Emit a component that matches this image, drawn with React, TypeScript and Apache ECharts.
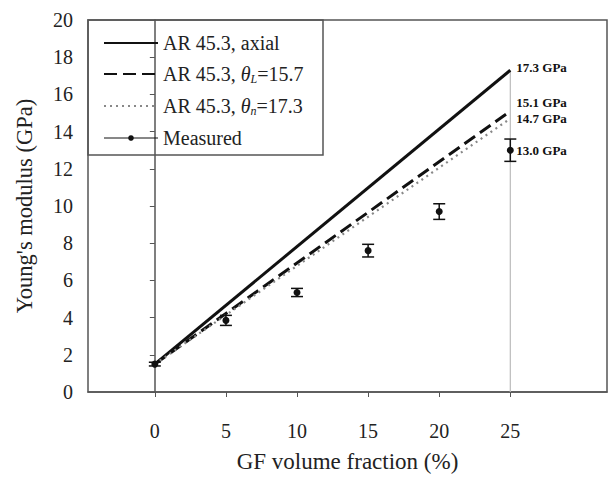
import React, { useEffect, useRef } from "react";
import * as echarts from "echarts";

const modelX = [0, 25];
const axialValues = [1.5, 17.3];
const thetaLValues = [1.5, 15.1];
const thetaNValues = [1.5, 14.7];
const measuredX = [0, 5, 10, 15, 20, 25];
const measuredValues = [1.5, 3.85, 5.35, 7.6, 9.7, 13.0];
const measuredErr = [0.1, 0.27, 0.22, 0.34, 0.42, 0.6];
const xTicks = [0, 5, 10, 15, 20, 25];
const guideLine = [[25, 0], [25, 17.3]];

const FONT = "Liberation Serif";

export default function App() {
  const ref = useRef<HTMLDivElement>(null);
  useEffect(() => {
    const chart = echarts.init(ref.current as HTMLDivElement, null, { renderer: "svg" });
    const pair = (xs: number[], ys: number[]) => xs.map((x, i) => [x, ys[i]]);
    const endLabel = (text: string, offset: number[]) => ({
      show: true,
      formatter: text,
      distance: 6,
      offset,
      fontFamily: FONT,
      fontWeight: "bold",
      fontSize: 13,
      color: "#111",
    });
    const legendNames: Record<string, string> = {
      axial: "{n|AR 45.3, axial}",
      thetaL: "{n|AR 45.3, }{i|θ}{s|L}{n|=15.7}",
      thetaN: "{n|AR 45.3, }{i|θ}{s|n}{n|=17.3}",
      Measured: "{n|Measured}",
    };
    chart.setOption({
      animation: false,
      backgroundColor: "#fff",
      textStyle: { fontFamily: FONT },
      grid: {
        left: 88,
        right: 4,
        top: 20,
        bottom: 85,
        show: true,
        borderColor: "#555",
        borderWidth: 1.5,
      },
      xAxis: {
        type: "value",
        min: -4.7,
        max: 31.8,
        name: "GF volume fraction (%)",
        nameLocation: "middle",
        nameGap: 58,
        nameTextStyle: { fontFamily: FONT, fontSize: 23, color: "#222" },
        axisLine: { show: true, lineStyle: { color: "#555", width: 1.5 } },
        axisTick: { show: true, customValues: xTicks, length: 5, lineStyle: { color: "#555" } },
        axisLabel: {
          customValues: xTicks,
          fontFamily: FONT,
          fontSize: 20,
          color: "#222",
          margin: 29,
        },
        splitLine: { show: false },
      },
      yAxis: {
        type: "value",
        min: 0,
        max: 20,
        interval: 2,
        name: "Young's modulus (GPa)",
        nameLocation: "middle",
        nameGap: 52,
        nameTextStyle: { fontFamily: FONT, fontSize: 22.5, color: "#222" },
        axisLine: { show: true, lineStyle: { color: "#555", width: 1.5 } },
        axisTick: { show: true, length: 5, lineStyle: { color: "#555" } },
        axisLabel: { fontFamily: FONT, fontSize: 20, color: "#222", margin: 15 },
        splitLine: { show: false },
      },
      legend: {
        orient: "vertical",
        left: 98,
        top: 28,
        itemWidth: 54,
        itemHeight: 7,
        itemGap: 11,
        selectedMode: false,
        data: [
          { name: "axial", itemStyle: { opacity: 0 } },
          { name: "thetaL", itemStyle: { opacity: 0 } },
          { name: "thetaN", itemStyle: { opacity: 0 } },
          { name: "Measured", lineStyle: { opacity: 1, width: 1, color: "#111" } },
        ],
        formatter: (name: string) => legendNames[name],
        textStyle: {
          fontFamily: FONT,
          fontSize: 20,
          color: "#222",
          rich: {
            n: { fontFamily: FONT, fontSize: 20, color: "#222", lineHeight: 20 },
            i: { fontFamily: FONT, fontSize: 20, fontStyle: "italic", color: "#222", lineHeight: 20 },
            s: {
              fontFamily: FONT,
              fontSize: 12,
              fontStyle: "italic",
              color: "#222",
              verticalAlign: "bottom",
              padding: [10, 0, 0, 0],
            },
          },
        },
      },
      graphic: [
        {
          type: "rect",
          shape: { x: 88, y: 20, width: 235, height: 135 },
          style: { fill: "none", stroke: "#555", lineWidth: 1.5 },
          z: 10,
          silent: true,
        },
      ],
      series: [
        {
          type: "line",
          name: "guide",
          data: guideLine,
          symbol: "none",
          silent: true,
          lineStyle: { color: "#bbb", width: 1.2 },
          z: 1,
        },
        {
          type: "line",
          name: "axial",
          data: pair(modelX, axialValues),
          symbol: "none",
          color: "#111",
          lineStyle: { color: "#111", width: 3 },
          endLabel: endLabel("17.3 GPa", [0, -3]),
          z: 4,
        },
        {
          type: "line",
          name: "thetaL",
          data: pair(modelX, thetaLValues),
          symbol: "none",
          color: "#111",
          lineStyle: { color: "#111", width: 3, type: [13, 6] },
          endLabel: endLabel("15.1 GPa", [0, -9]),
          z: 4,
        },
        {
          type: "line",
          name: "thetaN",
          data: pair(modelX, thetaNValues),
          symbol: "none",
          color: "#888",
          lineStyle: { color: "#888", width: 2.2, type: [2, 4] },
          endLabel: endLabel("14.7 GPa", [0, 0]),
          z: 4,
        },
        {
          type: "line",
          name: "Measured",
          data: pair(measuredX, measuredValues),
          symbol: "circle",
          symbolSize: 7,
          color: "#111",
          itemStyle: { color: "#111" },
          lineStyle: { opacity: 0, width: 1, color: "#111" },
          endLabel: endLabel("13.0 GPa", [0, 0]),
          z: 5,
        },
        {
          type: "custom",
          name: "errors",
          silent: true,
          data: measuredX.map((x, i) => [x, measuredValues[i], measuredErr[i]]),
          renderItem: (params: any, api: any) => {
            const x = api.value(0);
            const y = api.value(1);
            const e = api.value(2);
            const top = api.coord([x, y + e]);
            const bot = api.coord([x, y - e]);
            const hw = 6;
            const style = { stroke: "#111", lineWidth: 1.5 };
            return {
              type: "group",
              children: [
                { type: "line", shape: { x1: top[0], y1: top[1], x2: bot[0], y2: bot[1] }, style },
                { type: "line", shape: { x1: top[0] - hw, y1: top[1], x2: top[0] + hw, y2: top[1] }, style },
                { type: "line", shape: { x1: bot[0] - hw, y1: bot[1], x2: bot[0] + hw, y2: bot[1] }, style },
              ],
            };
          },
          z: 5,
        },
      ],
    });
    return () => chart.dispose();
  }, []);
  return (
    <div
      ref={ref}
      style={{ position: "fixed", left: 0, top: 0, width: 611, height: 478 }}
    />
  );
}
